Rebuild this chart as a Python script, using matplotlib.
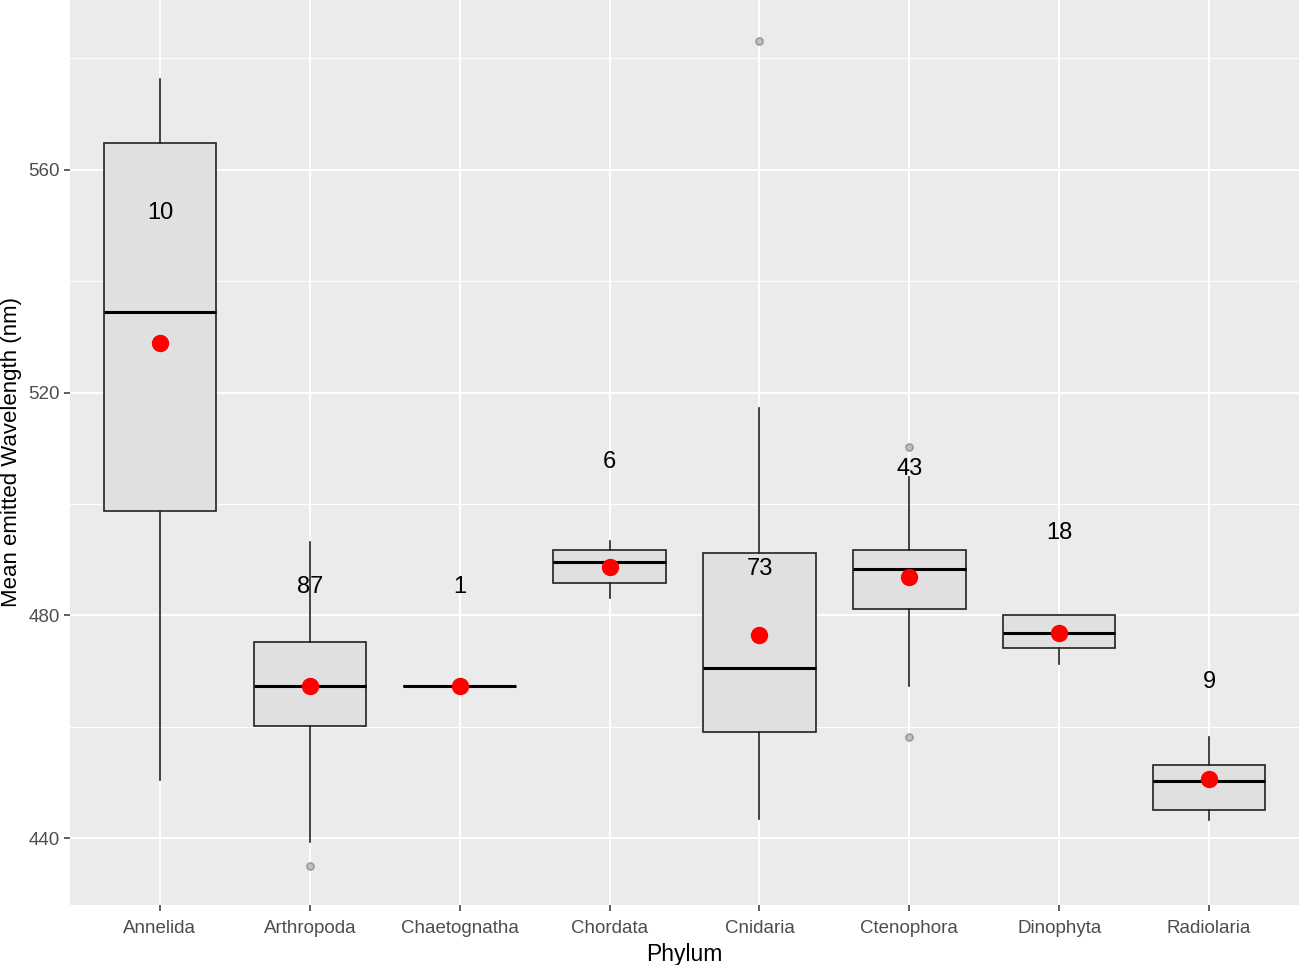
#!/usr/bin/env python
"""
Boxplot of mean emitted wavelength per phylum (ggplot look)
"""
import matplotlib
matplotlib.use('Agg')
import matplotlib.pyplot as plt

phyla = ['Annelida', 'Arthropoda', 'Chaetognatha', 'Chordata',
         'Cnidaria', 'Ctenophora', 'Dinophyta', 'Radiolaria']
whislo = [450.4, 439.3, 467.4, 483.2, 443.4, 467.3, 471.3, 443.2]
q1 = [498.7, 460.1, 467.4, 485.9, 459.1, 481.1, 474.1, 445.0]
med = [534.4, 467.4, 467.4, 489.6, 470.5, 488.3, 476.8, 450.3]
q3 = [564.9, 475.2, 467.4, 491.7, 491.2, 491.7, 480.1, 453.1]
whishi = [576.3, 493.2, 467.4, 493.3, 517.2, 504.8, 480.1, 458.2]
outliers = [[], [435.0], [], [], [583.2], [510.2, 458.1], [], []]
means = [529.0, 467.4, 467.4, 488.7, 476.5, 486.9, 476.8, 450.6]
counts = ['10', '87', '1', '6', '73', '43', '18', '9']
count_y = [552.2, 485.1, 485.1, 507.6, 488.3, 506.3, 494.8, 468.1]

plt.rcParams['font.family'] = ['Liberation Sans', 'DejaVu Sans']

fig = plt.figure(figsize=(12.99, 9.65), dpi=100)
ax = fig.add_axes([70 / 1299, 60 / 965, 1229 / 1299, 905 / 965])
ax.set_facecolor('#ebebeb')

stats = []
for i, name in enumerate(phyla):
    stats.append(dict(label=name, whislo=whislo[i], q1=q1[i], med=med[i],
                      q3=q3[i], whishi=whishi[i], fliers=outliers[i]))

pos = list(range(1, len(phyla) + 1))
ax.bxp(stats, positions=pos, widths=0.75, patch_artist=True,
       showcaps=False, zorder=3,
       boxprops=dict(facecolor='#e0e0e0', edgecolor='#222222', linewidth=1.2),
       medianprops=dict(color='black', linewidth=2.2),
       whiskerprops=dict(color='#222222', linewidth=1.2),
       flierprops=dict(marker='o', markersize=5, markerfacecolor='#c0c0c0',
                       markeredgecolor='#999999', markeredgewidth=1.2))

ax.plot(pos, means, linestyle='none', marker='o', markersize=11.5,
        color='red', zorder=5)

for x, y, n in zip(pos, count_y, counts):
    ax.text(x, y, n, ha='center', va='center', fontsize=17, color='black',
            zorder=6)

ax.set_xlim(0.4, 8.6)
ax.set_ylim(428, 590.5)
ax.set_yticks([440, 480, 520, 560])
ax.set_yticks([460, 500, 540, 580], minor=True)
ax.set_xticks(pos)
ax.set_xticklabels(phyla)

ax.grid(True, which='major', color='white', linewidth=1.4, zorder=0)
ax.grid(True, which='minor', axis='y', color='white', linewidth=0.7, zorder=0)
ax.set_axisbelow(True)
for s in ax.spines.values():
    s.set_visible(False)

ax.tick_params(axis='both', which='major', length=4, width=1.1,
               color='#333333', labelcolor='#4d4d4d', labelsize=13.5)
ax.tick_params(axis='y', which='minor', length=0)
ax.tick_params(axis='x', pad=7)

ax.set_xlabel('Phylum', fontsize=16.5, color='black', labelpad=4)
# y title placed by hand so it stays inside the left edge
fig.text(12 / 1299, 1 - 452 / 965, 'Mean emitted Wavelength (nm)',
         rotation=90, ha='center', va='center', fontsize=16, color='black')

fig.savefig('out.png', dpi=100)
